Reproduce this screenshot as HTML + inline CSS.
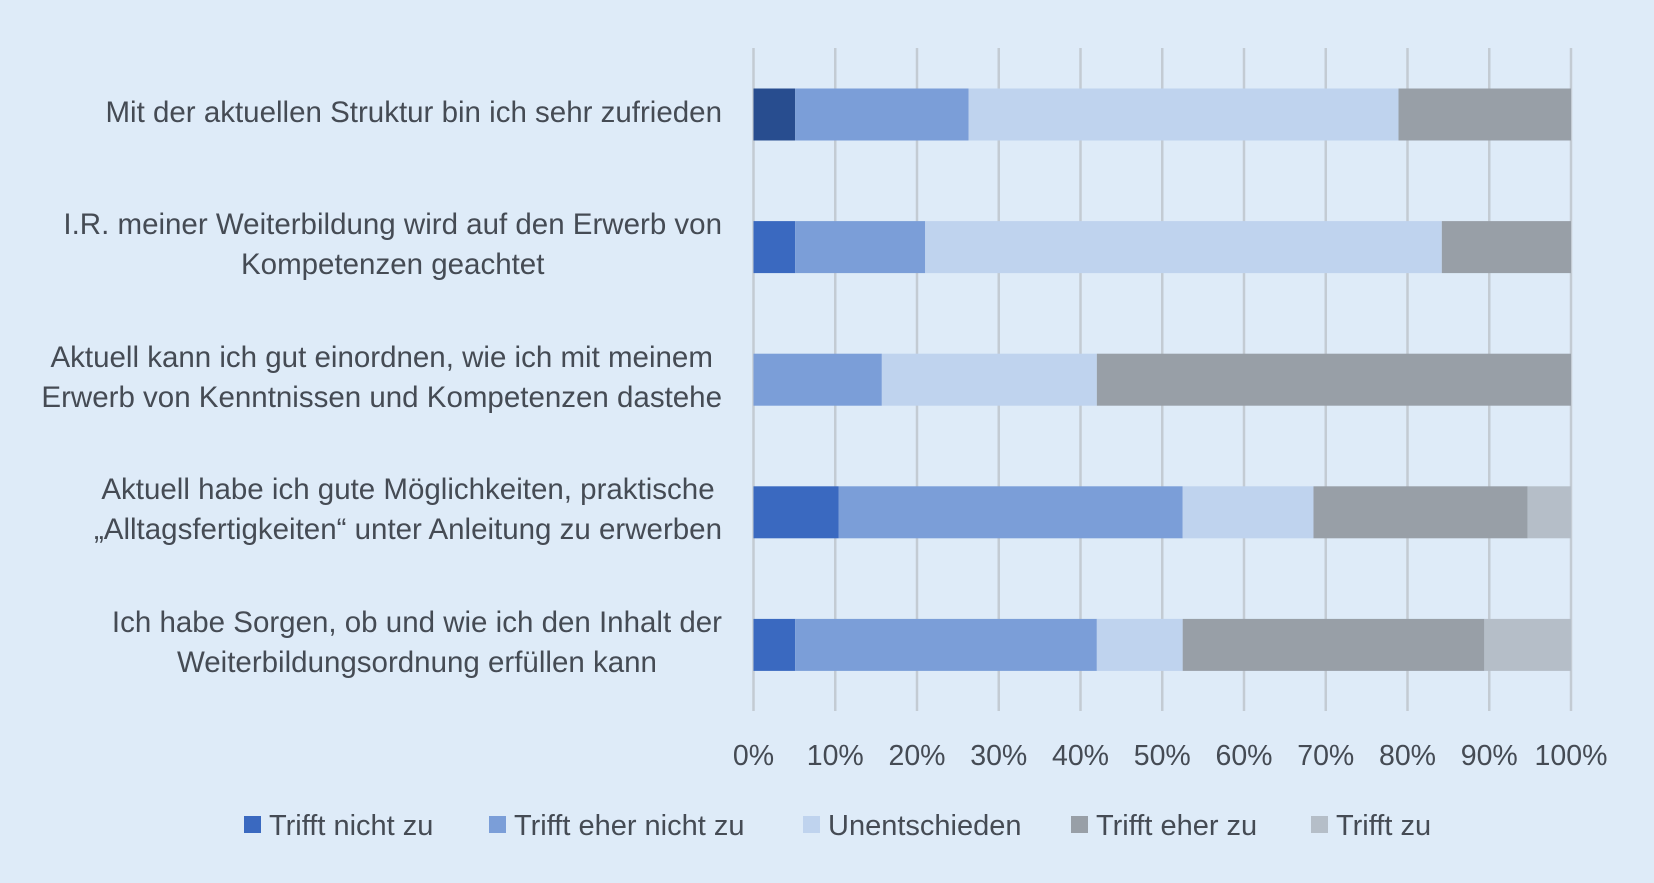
<!DOCTYPE html>
<html><head><meta charset="utf-8">
<style>
html,body{margin:0;padding:0;}
body{width:1654px;height:883px;background:#deebf8;position:relative;overflow:hidden;font-family:"Liberation Sans",sans-serif;color:#454b54;}
.lbl{position:absolute;text-align:center;white-space:nowrap;font-size:29.5px;line-height:40px;}
svg{position:absolute;left:0;top:0;}
</style></head>
<body>
<svg id="chart" width="1654" height="883"></svg>
<div id="labels"></div>
<script>
const categories = [
  ["Mit der aktuellen Struktur bin ich sehr zufrieden"],
  ["I.R. meiner Weiterbildung wird auf den Erwerb von","Kompetenzen geachtet"],
  ["Aktuell kann ich gut einordnen, wie ich mit meinem","Erwerb von Kenntnissen und Kompetenzen dastehe"],
  ["Aktuell habe ich gute Möglichkeiten, praktische","„Alltagsfertigkeiten“ unter Anleitung zu erwerben"],
  ["Ich habe Sorgen, ob und wie ich den Inhalt der","Weiterbildungsordnung erfüllen kann"]
];
const seriesNames = ["Trifft nicht zu","Trifft eher nicht zu","Unentschieden","Trifft eher zu","Trifft zu"];
const trifftNicht = [5.1, 5.1, 0, 10.4, 5.1];
const eherNicht = [21.2, 15.9, 15.7, 42.1, 36.9];
const unentschieden = [52.6, 63.2, 26.3, 16.0, 10.5];
const eherZu = [21.1, 15.8, 58.0, 26.2, 36.9];
const trifftZu = [0, 0, 0, 5.3, 10.6];
const tickValues = [0,10,20,30,40,50,60,70,80,90,100];
const tickLabels = ["0%","10%","20%","30%","40%","50%","60%","70%","80%","90%","100%"];

const series = [trifftNicht, eherNicht, unentschieden, eherZu, trifftZu];
const colors = ["#3a69c0","#7b9ed8","#bfd3ee","#989fa7","#b5bec8"];
const X0 = 753.5, X1 = 1571, Ytop = 48, Ybot = 711;
const xScale = v => X0 + (X1 - X0) * v / 100;
const rowCenter = i => 114.5 + i * 132.6;
const barH = 52;
const svg = document.getElementById('chart');
const NS = "http://www.w3.org/2000/svg";

tickValues.forEach((t, i) => {
  const ln = document.createElementNS(NS, 'line');
  
  
  ln.setAttribute('x1', xScale(t)); ln.setAttribute('x2', xScale(t));
  ln.setAttribute('y1', Ytop); ln.setAttribute('y2', Ybot);
  ln.setAttribute('stroke', '#c3cbd3'); ln.setAttribute('stroke-width', '2.5');
  svg.appendChild(ln);
  const tx = document.createElementNS(NS, 'text');
  
  
  tx.setAttribute('x', xScale(t)); tx.setAttribute('y', 765);
  tx.setAttribute('text-anchor', 'middle');
  tx.setAttribute('font-size', '28.5');
  tx.setAttribute('fill', '#454b54');
  tx.textContent = tickLabels[i];
  svg.appendChild(tx);
});

categories.forEach((c, i) => {
  let acc = 0;
  series.forEach((s, k) => {
    const v = s[i];
    if (v > 0) {
      const r = document.createElementNS(NS, 'rect');
      
      
      r.setAttribute('x', xScale(acc));
      r.setAttribute('width', xScale(acc + v) - xScale(acc));
      r.setAttribute('y', rowCenter(i) - barH / 2);
      r.setAttribute('height', barH);
      r.setAttribute('fill', (i === 0 && k === 0) ? '#284d8f' : colors[k]);
      svg.appendChild(r);
    }
    acc += v;
  });
  const d = document.createElement('div');
  
  
  d.className = 'lbl';
  d.style.right = (1654 - 722) + 'px';
  d.style.top = (rowCenter(i) - 20 * c.length - 2) + 'px';
  d.innerHTML = c.join('<br>');
  document.getElementById('labels').appendChild(d);
});

const legX = [244, 489, 803, 1071, 1311];
seriesNames.forEach((n, k) => {
  const r = document.createElementNS(NS, 'rect');
  
  
  r.setAttribute('x', legX[k]); r.setAttribute('y', 816);
  r.setAttribute('width', 17); r.setAttribute('height', 17);
  r.setAttribute('fill', colors[k]);
  svg.appendChild(r);
  const t = document.createElementNS(NS, 'text');
  
  
  t.setAttribute('x', legX[k] + 25); t.setAttribute('y', 835);
  t.setAttribute('font-size', '29');
  t.setAttribute('fill', '#454b54');
  t.textContent = n;
  svg.appendChild(t);
});
</script>
</body></html>
